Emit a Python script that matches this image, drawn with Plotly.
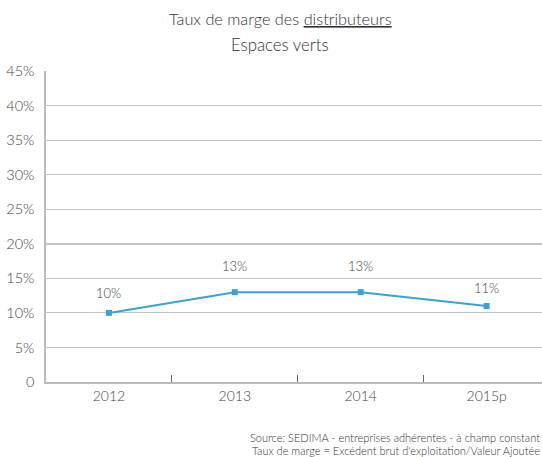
import plotly.graph_objects as go

categories = ["2012", "2013", "2014", "2015p"]
values = [10, 13, 13, 11]
labels = ["10%", "13%", "13%", "11%"]
label_shift = [20, 26, 26, 18]
y_ticks = [0, 5, 10, 15, 20, 25, 30, 35, 40, 45]
y_ticktext = ["0", "5%", "10%", "15%", "20%", "25%", "30%", "35%", "40%", "45%"]
highlight_level = 20

FONT = "Lato, Roboto, sans-serif"
LINE = "#3aa3d5"
TXT = "#444"

fig = go.Figure()
fig.add_trace(go.Scatter(
    x=categories, y=values, mode="lines+markers",
    line=dict(color=LINE, width=2),
    marker=dict(symbol="square", size=6, color=LINE),
    hoverinfo="skip", showlegend=False,
))

for i, (v, t, s) in enumerate(zip(values, labels, label_shift)):
    fig.add_annotation(x=i, y=v, text=t, showarrow=False, yshift=s,
                       xanchor="center", yanchor="middle",
                       font=dict(family=FONT, size=13, color=TXT, weight=300))

fig.add_shape(type="line", xref="paper", x0=0, x1=1, yref="y",
              y0=highlight_level, y1=highlight_level,
              line=dict(color="#333", width=1), layer="below")

fig.add_annotation(xref="paper", yref="paper", x=0.472, y=1.0, yshift=53,
                   xanchor="center", yanchor="middle",
                   text="Taux de marge des <u>distributeurs</u>", showarrow=False,
                   font=dict(family=FONT, size=16.3, color="#333", weight=300))
fig.add_annotation(xref="paper", yref="paper", x=0.472, y=1.0, yshift=27,
                   xanchor="center", yanchor="middle",
                   text="Espaces verts", showarrow=False,
                   font=dict(family=FONT, size=16.8, color="#333", weight=300))

fig.add_annotation(xref="paper", yref="paper", x=1.0, y=0, yshift=-55,
                   xanchor="right", yanchor="middle",
                   text="Source: SEDIMA - entreprises adhérentes - à champ constant",
                   showarrow=False, font=dict(family=FONT, size=11, color="#333", weight=300))
fig.add_annotation(xref="paper", yref="paper", x=1.0, y=0, yshift=-68,
                   xanchor="right", yanchor="middle",
                   text="Taux de marge = Excédent brut d'exploitation/Valeur Ajoutée",
                   showarrow=False, font=dict(family=FONT, size=11, color="#333", weight=300))

fig.update_layout(
    width=542, height=457,
    margin=dict(l=46, r=0, t=71, b=75),
    paper_bgcolor="white", plot_bgcolor="white",
    font=dict(family=FONT, size=14, color=TXT),
)
fig.update_xaxes(
    type="category", range=[-0.5, 3.44],
    showgrid=False, showline=True, linecolor="#bbb", linewidth=1.5,
    ticks="inside", tickson="boundaries", ticklen=7, tickcolor="#666", tickwidth=1,
    tickfont=dict(family=FONT, size=14, color=TXT, weight=300),
)
fig.update_yaxes(
    range=[0, 45], tickvals=y_ticks, ticktext=y_ticktext,
    showgrid=True, gridcolor="#c4c4c4", gridwidth=1,
    showline=True, linecolor="#bbb", linewidth=1.5, zeroline=False,
    ticks="", ticklabelstandoff=7,
    tickfont=dict(family=FONT, size=14.5, color=TXT, weight=300),
)

fig.write_html("out.html", config={"displayModeBar": False},
               post_script="document.body.style.margin='0';")
